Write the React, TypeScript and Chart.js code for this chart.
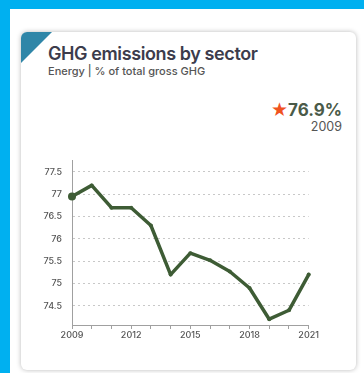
import React, { useEffect, useRef } from "react";
import { Chart, registerables } from "chart.js";

Chart.register(...registerables);

const years = [2009, 2010, 2011, 2012, 2013, 2014, 2015, 2016, 2017, 2018, 2019, 2020, 2021];
const energyShare = [76.95, 77.2, 76.7, 76.7, 76.3, 75.2, 75.68, 75.52, 75.27, 74.9, 74.2, 74.4, 75.2];
const yTickValues = [74.5, 75, 75.5, 76, 76.5, 77, 77.5];
const xLabelYears = [2009, 2012, 2015, 2018, 2021];

const FONT = "Inter, 'Open Sans', sans-serif";

export default function App() {
  const canvasRef = useRef<HTMLCanvasElement | null>(null);

  useEffect(() => {
    document.body.style.margin = "0";
    const canvas = canvasRef.current;
    if (!canvas) return;
    const chart = new Chart(canvas, {
      type: "line",
      data: {
        labels: years.map(String),
        datasets: [
          {
            data: energyShare,
            borderColor: "#3e5c35",
            backgroundColor: "#3e5c35",
            borderWidth: 3.5,
            tension: 0,
            borderJoinStyle: "round",
            borderCapStyle: "round",
            pointRadius: energyShare.map((_, i) => (i === 0 ? 4 : 2)),
            pointBorderWidth: 0,
            pointBackgroundColor: "#3e5c35",
            fill: false,
          },
        ],
      },
      options: {
        animation: false,
        responsive: false,
        maintainAspectRatio: false,
        layout: { padding: { top: 8, bottom: 8, left: 0, right: 10 } },
        plugins: { legend: { display: false }, tooltip: { enabled: false } },
        scales: {
          x: {
            type: "category",
            offset: false,
            afterFit: (s: any) => {
              s.height = 17;
            },
            grid: {
              display: true,
              drawOnChartArea: false,
              drawTicks: true,
              tickLength: 4,
              tickColor: "#a0a0a0",
              tickWidth: 1,
            },
            border: { display: true, color: "#a0a0a0", width: 1 },
            ticks: {
              autoSkip: false,
              maxRotation: 0,
              padding: 1,
              color: "#555",
              font: { family: FONT, size: 9, weight: 500 },
              callback: (_v: any, i: number) =>
                xLabelYears.includes(years[i]) ? String(years[i]) : "",
            },
          },
          y: {
            min: 74.07,
            max: 77.76,
            afterFit: (s: any) => {
              s.width = 52;
            },
            afterBuildTicks: (s: any) => {
              s.ticks = yTickValues.map((v) => ({ value: v }));
            },
            grid: {
              display: true,
              drawTicks: false,
              color: "#c8c8c8",
              lineWidth: 1,
            },
            border: { display: true, color: "#a0a0a0", width: 1, dash: [2, 3] },
            ticks: {
              padding: 10,
              color: "#555",
              font: { family: FONT, size: 9, weight: 500 },
              callback: (v: any) => String(v),
            },
          },
        },
      },
    } as any);
    return () => chart.destroy();
  }, []);

  return (
    <div style={{ position: "fixed", inset: 0, background: "#00b0f0", overflow: "hidden" }}>
      <div style={{ position: "absolute", left: 10, top: 9, right: 0, bottom: 0, background: "#ffffff" }} />
      <div
        style={{
          position: "absolute",
          left: 21,
          top: 32,
          width: 335,
          height: 338,
          borderRadius: 6,
          background: "#ffffff",
          boxShadow: "0 0 5px rgba(0,0,0,0.28)",
          overflow: "hidden",
        }}
      >
        <div
          style={{
            position: "absolute",
            left: 0,
            top: 0,
            width: 0,
            height: 0,
            borderTop: "31px solid #2f86a8",
            borderRight: "31px solid transparent",
          }}
        />
      </div>
      <div
        style={{
          position: "absolute",
          left: 48,
          top: 45,
          fontFamily: FONT,
          fontSize: 18,
          lineHeight: "18px",
          fontWeight: 600,
          letterSpacing: -0.4,
          color: "#3c3c4c",
          whiteSpace: "nowrap",
        }}
      >
        GHG emissions by sector
      </div>
      <div
        style={{
          position: "absolute",
          left: 48,
          top: 65.5,
          fontFamily: FONT,
          fontSize: 11,
          lineHeight: "11px",
          fontWeight: 500,
          color: "#555",
          whiteSpace: "nowrap",
        }}
      >
        Energy | % of total gross GHG
      </div>
      <div
        style={{
          position: "absolute",
          right: 22,
          top: 101.3,
          fontFamily: FONT,
          fontSize: 17,
          lineHeight: "17px",
          fontWeight: 700,
          color: "#4a5a48",
          whiteSpace: "nowrap",
          textAlign: "right",
        }}
      >
        <span style={{ color: "#f0531f", fontFamily: "'DejaVu Sans', sans-serif", fontSize: 19 }}>★</span>76.9%
      </div>
      <div
        style={{
          position: "absolute",
          right: 22,
          top: 120.9,
          fontFamily: FONT,
          fontSize: 12.5,
          lineHeight: "12.5px",
          fontWeight: 400,
          color: "#555",
          whiteSpace: "nowrap",
          textAlign: "right",
        }}
      >
        2009
      </div>
      <canvas
        ref={canvasRef}
        width={300}
        height={205}
        style={{ position: "absolute", left: 20, top: 145, width: 300, height: 205 }}
      />
    </div>
  );
}
